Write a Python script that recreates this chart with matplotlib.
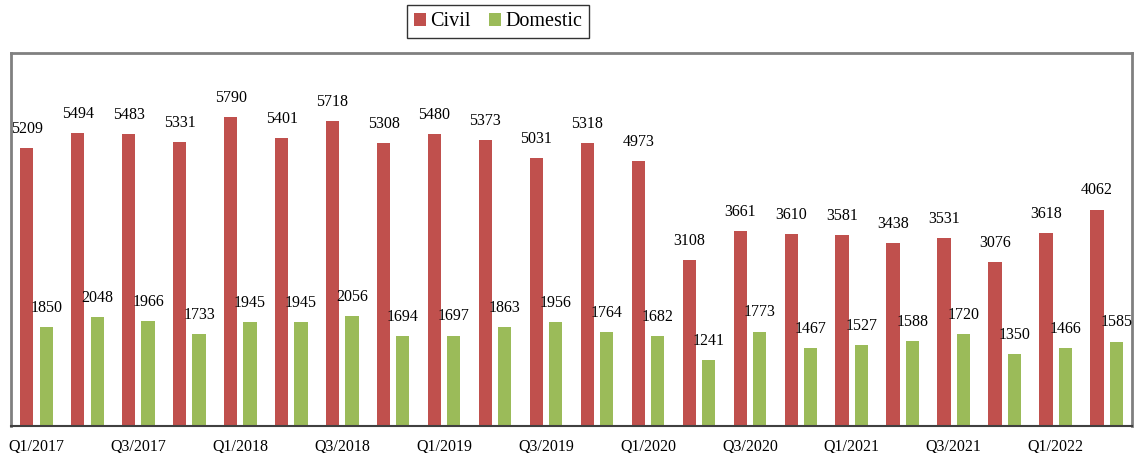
import matplotlib
matplotlib.use("Agg")
import matplotlib.pyplot as plt
import numpy as np

quarters = ["Q1/2017", "Q2/2017", "Q3/2017", "Q4/2017",
            "Q1/2018", "Q2/2018", "Q3/2018", "Q4/2018",
            "Q1/2019", "Q2/2019", "Q3/2019", "Q4/2019",
            "Q1/2020", "Q2/2020", "Q3/2020", "Q4/2020",
            "Q1/2021", "Q2/2021", "Q3/2021", "Q4/2021",
            "Q1/2022", "Q2/2022"]
civil = [5209, 5494, 5483, 5331, 5790, 5401, 5718, 5308, 5480, 5373, 5031,
         5318, 4973, 3108, 3661, 3610, 3581, 3438, 3531, 3076, 3618, 4062]
domestic = [1850, 2048, 1966, 1733, 1945, 1945, 2056, 1694, 1697, 1863, 1956,
            1764, 1682, 1241, 1773, 1467, 1527, 1588, 1720, 1350, 1466, 1585]

plt.rcParams["font.family"] = ["Liberation Serif", "DejaVu Serif"]

red = "#C0504D"
green = "#9BBB59"

fig = plt.figure(figsize=(11.35, 4.53), dpi=100)
ax = fig.add_axes([0.0097, 0.0596, 0.9877, 0.8234])

x = np.arange(len(quarters))
w = 0.26
off = 0.19
b1 = ax.bar(x - off, civil, w, color=red, label="Civil")
b2 = ax.bar(x + off, domestic, w, color=green, label="Domestic")

# value labels above each bar
for bars, vals in [(b1, civil), (b2, domestic)]:
    for rect, v in zip(bars, vals):
        ax.annotate(str(v), (rect.get_x() + rect.get_width() / 2, v),
                    xytext=(0, 8), textcoords="offset points",
                    ha="center", va="bottom", fontsize=11.5)

ax.set_xlim(-0.5, len(quarters) - 0.5)
ax.set_ylim(0, 7000)
ax.set_xticks(x[::2])
ax.set_xticklabels(quarters[::2], fontsize=11.5)
ax.tick_params(axis="x", length=0, pad=9)
ax.set_yticks([])

for s in ["left", "top", "right"]:
    ax.spines[s].set_color("#808080")
    ax.spines[s].set_linewidth(2)
ax.spines["bottom"].set_color("#404040")
ax.spines["bottom"].set_linewidth(1.5)

leg = fig.legend(loc="center", bbox_to_anchor=(0.439, 0.952), ncol=2,
                 fontsize=14.5, frameon=True, fancybox=False,
                 handlelength=0.6, handleheight=0.6, handletextpad=0.2,
                 columnspacing=0.9, borderpad=0.35)
leg.get_frame().set_edgecolor("black")
leg.get_frame().set_linewidth(1)

fig.savefig("out.png", dpi=100)
